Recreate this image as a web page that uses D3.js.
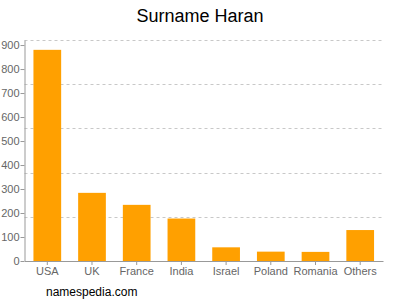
<!DOCTYPE html>
<html>
<head>
<meta charset="utf-8">
<script src="https://cdn.jsdelivr.net/npm/d3@7"></script>
<style>
  body { margin: 0; background: #fff; }
  text { font-family: "Liberation Sans", Arial, sans-serif; }
</style>
</head>
<body>
<div id="chart"></div>
<script>
const countries = ["USA", "UK", "France", "India", "Israel", "Poland", "Romania", "Others"];
const counts = [880, 284, 234, 177, 57, 39, 38, 129];
const yTicks = [0, 100, 200, 300, 400, 500, 600, 700, 800, 900];
const yMax = 921;

const width = 400, height = 300;
const margin = { top: 40, right: 17, bottom: 39, left: 24.5 };
const innerWidth = width - margin.left - margin.right;
const innerHeight = height - margin.top - margin.bottom;

const svg = d3.select("#chart").append("svg")
  .attr("width", width)
  .attr("height", height);

svg.append("text")
  .attr("x", width / 2)
  .attr("y", 22)
  .attr("text-anchor", "middle")
  .style("font-size", "18px")
  .attr("fill", "#000")
  .text("Surname Haran");

const g = svg.append("g")
  .attr("transform", `translate(${margin.left},${margin.top})`);

const x = d3.scaleBand()
  .domain(countries)
  .range([0, innerWidth])
  .paddingInner(0.38)
  .paddingOuter(0.2);

const y = d3.scaleLinear()
  .domain([0, yMax])
  .range([innerHeight, 0]);

// grid lines split the plot into 5 equal parts
g.selectAll(".grid")
  .data(d3.range(1, 6).map(i => yMax * i / 5))
  .join("line")
  .attr("class", "grid")
  .attr("x1", 0)
  .attr("x2", innerWidth)
  .attr("y1", d => Math.round(y(d)) + 0.5)
  .attr("y2", d => Math.round(y(d)) + 0.5)
  .attr("stroke", "#c8c8c8")
  .attr("stroke-dasharray", "3,3");

g.selectAll(".bar")
  .data(countries)
  .join("rect")
  .attr("class", "bar")
  .attr("x", d => x(d))
  .attr("y", (d, i) => y(counts[i]))
  .attr("width", x.bandwidth())
  .attr("height", (d, i) => innerHeight - y(counts[i]))
  .attr("fill", "#ffa000");

const yAxis = g.append("g")
  .call(d3.axisLeft(y).tickValues(yTicks).tickSize(4).tickSizeOuter(0));
yAxis.select(".domain").attr("stroke", "#999");
yAxis.selectAll(".tick line").attr("stroke", "#999");
yAxis.selectAll("text")
  .attr("fill", "#666")
  .attr("x", -5)
  .style("font-size", "11px");

const xAxis = g.append("g")
  .attr("transform", `translate(0,${innerHeight})`)
  .call(d3.axisBottom(x).tickSize(4).tickSizeOuter(0));
xAxis.select(".domain").attr("stroke", "#999");
xAxis.selectAll(".tick line").attr("stroke", "#999");
xAxis.selectAll("text")
  .attr("fill", "#666")
  .attr("y", 6)
  .style("font-size", "11px");

svg.append("text")
  .attr("x", 46)
  .attr("y", 296)
  .style("font-size", "12px")
  .attr("fill", "#000")
  .text("namespedia.com");
</script>
</body>
</html>
